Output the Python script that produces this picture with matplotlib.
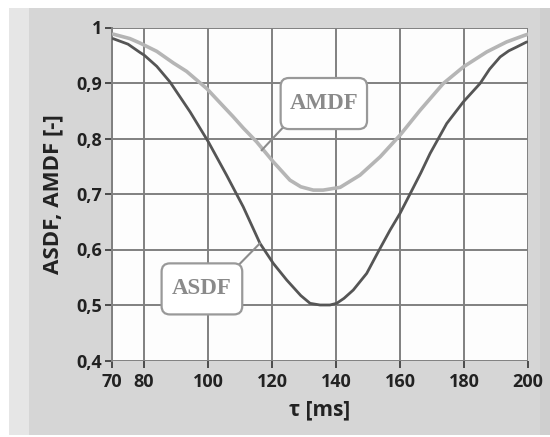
import matplotlib
matplotlib.use("Agg")
import matplotlib.pyplot as plt
from matplotlib.patches import Rectangle, FancyBboxPatch
from matplotlib.ticker import FuncFormatter

# ---- data ----
asdf_tau = [70.3, 75.0, 78.75, 80.1, 84.0, 88.1, 94.4, 100.1, 105.8, 111.0, 116.25,
            120.4, 124.6, 129.0, 131.9, 135.0, 138.1, 140.2, 142.5, 145.4, 149.6, 153.2,
            156.9, 160.0, 163.4, 166.5, 169.4, 174.6, 179.8, 185.0, 188.0, 191.3, 194.0,
            196.5, 199.6]
asdf_val = [0.980, 0.970, 0.955, 0.950, 0.930, 0.902, 0.848, 0.794, 0.734, 0.677, 0.611,
            0.575, 0.545, 0.517, 0.503, 0.500, 0.500, 0.503, 0.512, 0.527, 0.557, 0.596,
            0.635, 0.665, 0.703, 0.738, 0.773, 0.827, 0.866, 0.899, 0.925, 0.947, 0.958,
            0.965, 0.974]

amdf_tau = [70.4, 75.6, 78.75, 84.0, 89.2, 93.3, 99.6, 104.8, 107.9, 111.0, 115.2, 120.4,
            125.6, 129.0, 132.9, 136.0, 141.3, 147.5, 153.8, 160.0, 166.3, 173.5, 179.8,
            187.1, 193.3, 198.5, 200.0]
amdf_val = [0.988, 0.980, 0.972, 0.957, 0.936, 0.921, 0.890, 0.858, 0.839, 0.819, 0.794, 0.758,
            0.725, 0.713, 0.707, 0.707, 0.712, 0.734, 0.767, 0.806, 0.851, 0.899, 0.929,
            0.956, 0.974, 0.985, 0.988]

x_ticks = [70, 80, 100, 120, 140, 160, 180, 200]
y_ticks = [0.4, 0.5, 0.6, 0.7, 0.8, 0.9, 1.0]
x_label = "τ [ms]"
y_label = "ASDF, AMDF [-]"

# ---- figure ----
W, H = 550, 437
fig = plt.figure(figsize=(W / 100, H / 100), dpi=100)
fig.patch.set_facecolor("white")

# panel background (window frame)
fig.patches.append(Rectangle((9 / W, 2 / H), 541 / W, 427 / H, transform=fig.transFigure,
                             facecolor="#d6d6d6", edgecolor="none", zorder=-3))
fig.patches.append(Rectangle((9 / W, 2 / H), 20 / W, 427 / H, transform=fig.transFigure,
                             facecolor="#e6e6e6", edgecolor="none", zorder=-2))
fig.patches.append(Rectangle((540 / W, 2 / H), 10 / W, 427 / H, transform=fig.transFigure,
                             facecolor="#cfcfcf", edgecolor="none", zorder=-2))

ax = fig.add_axes([112 / W, 1 - 360.5 / H, 416 / W, 333 / H])
ax.set_facecolor("#fdfdfd")
ax.set_xlim(70, 200)
ax.set_ylim(0.4, 1.0)

ax.set_xticks(x_ticks)
ax.set_yticks(y_ticks)
ax.yaxis.set_major_formatter(FuncFormatter(lambda v, p: ("%g" % round(v, 1)).replace(".", ",")))
ax.grid(True, color="#808080", linewidth=1.4)
ax.set_axisbelow(True)

for s in ["top", "right", "bottom"]:
    ax.spines[s].set_visible(False)
ax.spines["left"].set_color("#808080")
ax.spines["left"].set_linewidth(1.4)

ax.tick_params(axis="both", direction="out", length=5, width=1.3, color="#404040",
               labelcolor="#222222")
ax.tick_params(axis="x", pad=4)
ax.tick_params(axis="y", pad=2)
for lab in ax.get_xticklabels() + ax.get_yticklabels():
    lab.set_fontfamily("Open Sans")
    lab.set_fontweight("bold")
    lab.set_fontsize(13)

ax.set_xlabel(x_label, fontsize=15, fontweight="bold", family="Open Sans", color="#222222")
ax.set_ylabel(y_label, fontsize=16, fontweight="bold", family="Open Sans", color="#222222")
ax.xaxis.set_label_coords(0.5, (360.5 - 399) / 333)
ax.yaxis.set_label_coords((63 - 112) / 416, 0.5)

ax.plot(amdf_tau, amdf_val, color="#b5b5b5", linewidth=2.6, zorder=3, solid_capstyle="round")
ax.plot(asdf_tau, asdf_val, color="#555555", linewidth=2.0, zorder=4, solid_capstyle="round")

# ---- annotation boxes ----
aspect = (0.6 / 333) / (130 / 416)


def label_box(text, x0, x1, y0, y1, corner, target):
    ax.plot([corner[0], target[0]], [corner[1], target[1]], color="#8c8c8c", lw=1.5, zorder=5)
    box = FancyBboxPatch((x0, y0), x1 - x0, y1 - y0,
                         boxstyle="round,pad=0,rounding_size=2.6",
                         mutation_aspect=aspect, facecolor="white", edgecolor="#999999",
                         linewidth=1.6, zorder=6)
    ax.add_patch(box)
    ax.text((x0 + x1) / 2, (y0 + y1) / 2, text, ha="center", va="center",
            family="Liberation Serif", weight="bold", size=16.5, color="#8a8a8a", zorder=7)


label_box("AMDF", 122.7, 149.7, 0.817, 0.909, (123.3, 0.819), (116.8, 0.779))
label_box("ASDF", 85.5, 110.7, 0.483, 0.575, (109.9, 0.574), (116.2, 0.611))

fig.savefig("out.png", dpi=100, facecolor=fig.get_facecolor())
